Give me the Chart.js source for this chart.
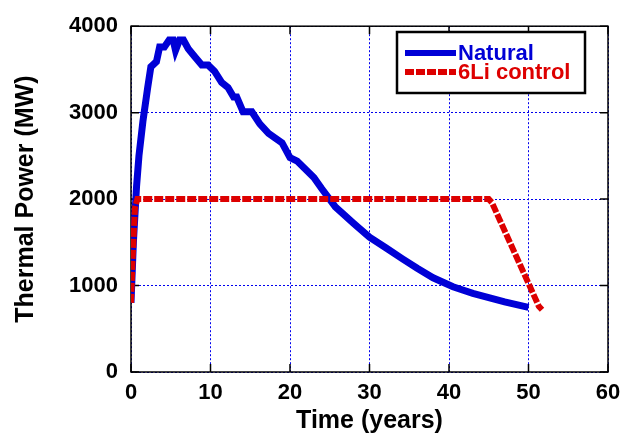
<!DOCTYPE html>
<html>
<head>
<meta charset="utf-8">
<script src="https://cdn.jsdelivr.net/npm/chart.js@4"></script>
<style>
  html, body { margin: 0; padding: 0; background: #fff; }
  #wrap { width: 631px; height: 434px; }
</style>
</head>
<body>
<div id="wrap"><canvas id="myChart"></canvas></div>
<script>
// values
const naturalYears = [0, 0.3, 0.7, 1.0, 1.5, 2.1, 2.5, 3.2, 3.6, 4.2, 4.8, 5.3, 5.6, 6.1, 6.6, 7.2, 8.0, 8.9, 9.7, 10.5,
  11.4, 12.2, 12.9, 13.3, 14.1, 15.2, 16.2, 17.3, 19.0, 20.0, 20.9, 23.0, 24.0, 25.7, 28, 30, 32, 34.2, 36, 38, 40.5,
  43, 45, 47, 50];
const naturalPower = [800, 1500, 2150, 2500, 2900, 3290, 3530, 3590, 3760, 3760, 3840, 3840, 3720, 3840, 3840, 3740,
  3650, 3550, 3550, 3480, 3350, 3290, 3180, 3180, 3010, 3010, 2870, 2760, 2650, 2480, 2440, 2250, 2120, 1910, 1720,
  1560, 1440, 1306, 1200, 1090, 986, 910, 860, 810, 748];

const liYears = [0, 0.2, 0.5, 0.8, 1.0, 45.0, 45.4, 51.3, 51.7];
const liPower = [800, 1300, 1900, 2000, 2000, 2000, 1960, 760, 720];

const xTicks = [0, 10, 20, 30, 40, 50, 60];
const yTicks = [0, 1000, 2000, 3000, 4000];

const seriesNames = ['Natural', '6Li control'];
const blue = '#0000d6';
const red = '#dd0000';

function toPoints(xs, ys) {
  return xs.map((x, i) => ({ x: x, y: ys[i] }));
}

// frame, inner tick marks and the boxed legend
const framePlugin = {
  id: 'frame',
  beforeDatasetsDraw(chart) {
    const { ctx, chartArea: a, scales } = chart;
    ctx.save();
    ctx.strokeStyle = '#000';
    ctx.lineWidth = 1.5;
    ctx.strokeRect(a.left, a.top, a.right - a.left, a.bottom - a.top);
    ctx.beginPath();
    xTicks.forEach(v => {
      const px = scales.x.getPixelForValue(v);
      ctx.moveTo(px, a.bottom); ctx.lineTo(px, a.bottom - 8);
      ctx.moveTo(px, a.top); ctx.lineTo(px, a.top + 8);
    });
    yTicks.forEach(v => {
      const py = scales.y.getPixelForValue(v);
      ctx.moveTo(a.left, py); ctx.lineTo(a.left + 8, py);
      ctx.moveTo(a.right, py); ctx.lineTo(a.right - 8, py);
    });
    ctx.stroke();
    ctx.restore();
  },
  afterDraw(chart) {
    const ctx = chart.ctx;
    ctx.save();
    ctx.fillStyle = '#fff';
    ctx.fillRect(397, 32, 188, 61);
    ctx.strokeStyle = '#000';
    ctx.lineWidth = 2.5;
    ctx.strokeRect(397, 32, 188, 61);
    const rows = [53, 72];
    chart.data.datasets.forEach((ds, i) => {
      ctx.beginPath();
      ctx.strokeStyle = ds.borderColor;
      ctx.lineWidth = 6;
      ctx.setLineDash(ds.borderDash || []);
      ctx.moveTo(405, rows[i]);
      ctx.lineTo(456, rows[i]);
      ctx.stroke();
      ctx.setLineDash([]);
      ctx.fillStyle = ds.borderColor;
      ctx.font = 'bold 22px "Liberation Sans", Arial, sans-serif';
      ctx.textBaseline = 'middle';
      ctx.fillText(ds.label, 458, rows[i] + 1);
    });
    ctx.restore();
  }
};

const tickFont = { family: '"Liberation Sans", Arial, sans-serif', size: 22, weight: 'bold' };
const titleFont = { family: '"Liberation Sans", Arial, sans-serif', size: 25, weight: 'bold', lineHeight: 1 };
const plainLabel = v => String(v);

const ctx = document.getElementById('myChart').getContext('2d');
const myChart = new Chart(ctx, {
  type: 'scatter',
  data: {
    datasets: [{
      label: seriesNames[0],
      data: toPoints(naturalYears, naturalPower),
      showLine: true,
      borderColor: blue,
      borderWidth: 7,
      pointRadius: 0,
      tension: 0,
      order: 2
    }, {
      label: seriesNames[1],
      data: toPoints(liYears, liPower),
      showLine: true,
      borderColor: red,
      borderWidth: 6,
      borderDash: [9, 2],
      pointRadius: 0,
      tension: 0,
      order: 1
    }]
  },
  options: {
    responsive: true,
    maintainAspectRatio: false,
    animation: false,
    layout: { padding: { left: 0, right: 23, top: 19, bottom: 0 } },
    plugins: { legend: { display: false }, tooltip: { enabled: false } },
    scales: {
      x: {
        type: 'linear',
        min: 0, max: 60,
        afterBuildTicks: s => { s.ticks = xTicks.map(v => ({ value: v })); },
        afterFit: s => { s.height = 62; },
        ticks: { font: tickFont, color: '#000', padding: 8, callback: plainLabel },
        grid: { color: '#0000ee', lineWidth: 1, drawTicks: false },
        border: { display: false, dash: [2, 2] },
        title: { display: true, text: 'Time (years)', font: titleFont, color: '#000', padding: 0 }
      },
      y: {
        type: 'linear',
        min: 0, max: 4000,
        afterBuildTicks: s => { s.ticks = yTicks.map(v => ({ value: v })); },
        afterFit: s => { s.width = 131; },
        ticks: { font: tickFont, color: '#000', padding: 13, callback: plainLabel },
        grid: { color: '#0000ee', lineWidth: 1, drawTicks: false },
        border: { display: false, dash: [2, 2] },
        title: { display: true, text: 'Thermal Power (MW)', font: titleFont, color: '#000', padding: { top: 14, bottom: 0 } }
      }
    }
  },
  plugins: [framePlugin]
});
</script>
</body>
</html>
